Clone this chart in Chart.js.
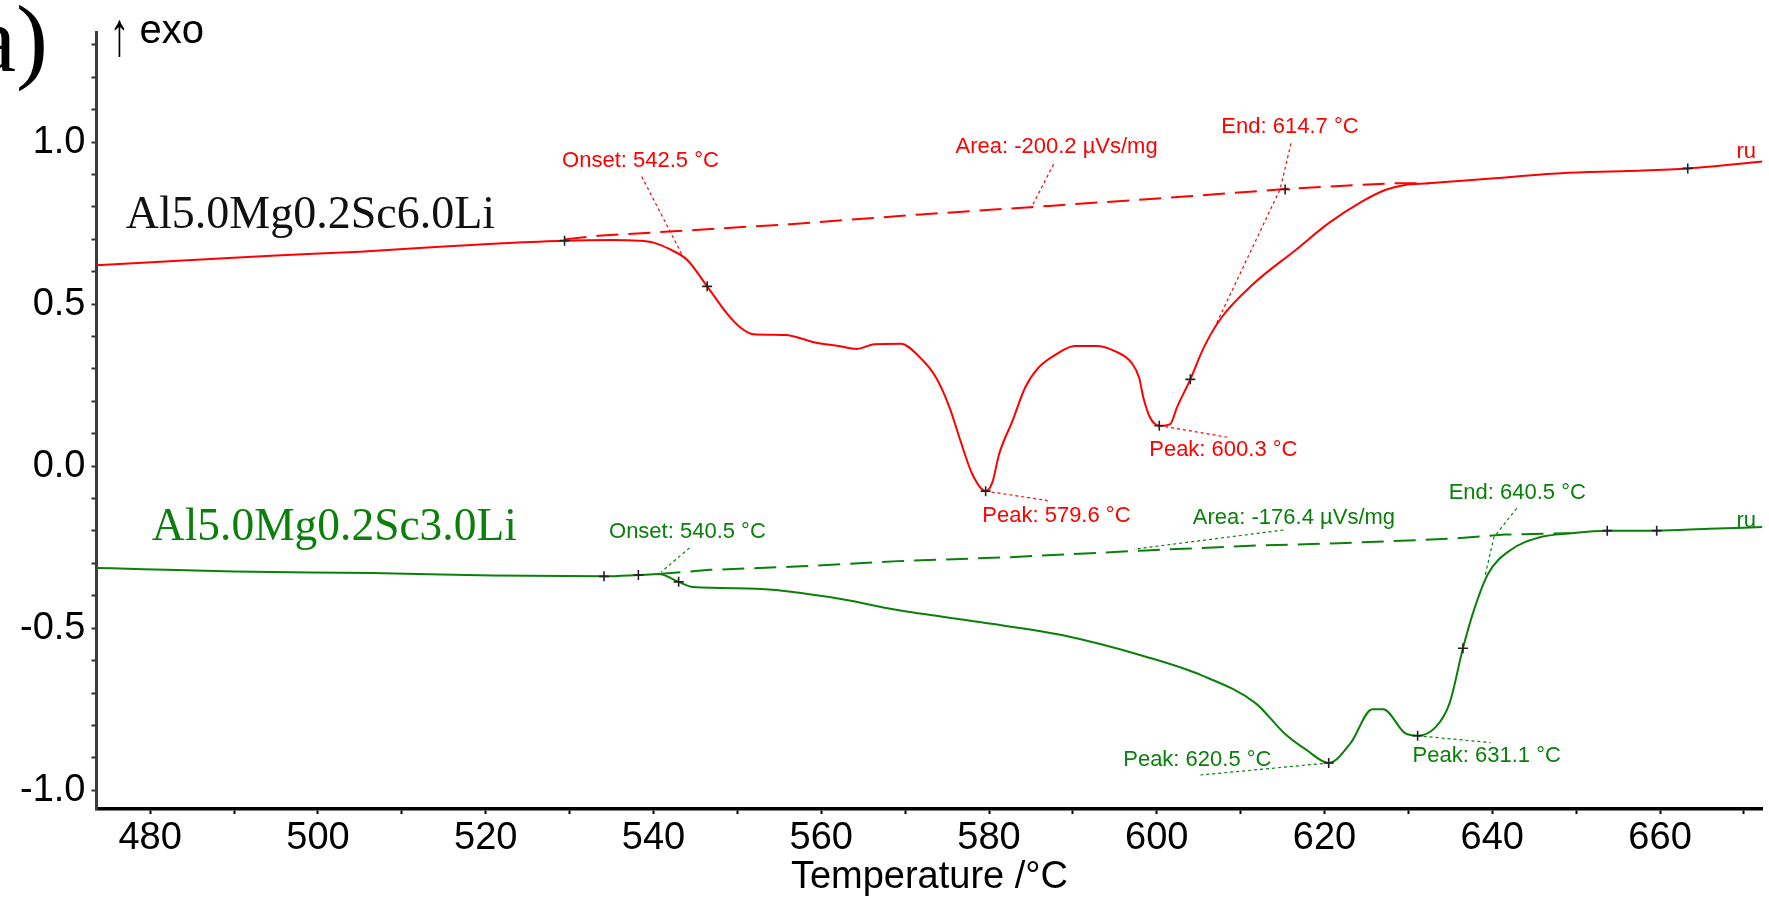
<!DOCTYPE html>
<html><head><meta charset="utf-8">
<script src="https://cdn.jsdelivr.net/npm/chart.js@4.4.1/dist/chart.umd.min.js"></script>
<style>html,body{margin:0;padding:0;background:#fff;overflow:hidden}canvas{display:block}</style>
</head><body>
<canvas id="c" width="1769" height="899"></canvas>
<script>
// ---------- data ----------
const redT = [473.6,485,495,505,515,522,529.4,535,538.3,540.0,542.0,544.0,546.4,548.8,550.4,551.9,555.7,559.4,562.1,564.2,566.3,569.5,571.6,573.7,575.3,576.6,578.0,579.6,580.4,581.2,582.8,584.3,585.9,588.0,590.2,592.8,595.0,597.0,597.9,598.4,599.2,600.3,601.6,602.4,604.0,605.6,607.7,611.4,616.6,620.5,624.5,627.3,629.6,632.4,640.3,648.2,656.1,663.3,672.2];
const redV = [0.620,0.636,0.650,0.662,0.678,0.688,0.696,0.698,0.696,0.690,0.669,0.637,0.555,0.470,0.427,0.407,0.405,0.381,0.371,0.362,0.376,0.378,0.340,0.273,0.181,0.078,-0.024,-0.077,-0.050,0.037,0.140,0.242,0.304,0.345,0.371,0.371,0.355,0.319,0.273,0.212,0.150,0.125,0.130,0.181,0.268,0.366,0.458,0.560,0.668,0.750,0.817,0.853,0.868,0.873,0.889,0.904,0.911,0.919,0.940];
const redBaseT = [529.4,533.4,544.3,556.3,571.9,587.6,603.3,615.6,627.9,632.4];
const redBaseV = [0.700,0.711,0.728,0.747,0.777,0.804,0.832,0.856,0.873,0.873];
const redMarkT = [529.4,546.4,579.6,600.3,604.0,615.3,663.3];
const redMarkV = [0.696,0.555,-0.077,0.125,0.268,0.854,0.919];
const redLeaderT = [[538.6,543.4],[587.7,585.0],[616.0,614.7,606.8],[579.6,587.0],[600.3,608.5]];
const redLeaderV = [[0.894,0.653],[0.932,0.796],[0.996,0.855,0.423],[-0.077,-0.106],[0.125,0.089]];

const greenT = [473.6,479.2,490,506.5,520.8,534.1,538.2,540.6,543.0,544.7,552.2,561.0,569.1,578.9,588.8,598.7,605.3,611.8,615.2,617.8,620.5,623.1,625.7,627.0,629.6,631.1,633.3,634.9,636.5,637.8,639.5,642.1,645.7,649.3,653.7,659.6,665.8,672.2];
const greenV = [-0.314,-0.318,-0.325,-0.330,-0.337,-0.340,-0.336,-0.333,-0.357,-0.373,-0.378,-0.404,-0.444,-0.481,-0.522,-0.588,-0.645,-0.732,-0.824,-0.875,-0.916,-0.855,-0.750,-0.750,-0.824,-0.832,-0.804,-0.732,-0.562,-0.445,-0.332,-0.260,-0.219,-0.207,-0.199,-0.199,-0.193,-0.188];
const greenBaseT = [540.6,546.7,557.6,569.1,582.3,598.7,611.8,621.7,634.9,641.5,649.3];
const greenBaseV = [-0.333,-0.320,-0.309,-0.293,-0.281,-0.260,-0.245,-0.238,-0.224,-0.211,-0.207];
const greenMarkT = [534.1,538.2,543.0,620.5,631.1,636.5,653.7,659.6];
const greenMarkV = [-0.340,-0.336,-0.357,-0.916,-0.832,-0.562,-0.199,-0.199];
const greenLeaderT = [[544.3,540.9],[615.1,597.3],[642.9,640.2,639.1],[620.5,605.2],[631.1,639.8]];
const greenLeaderV = [[-0.252,-0.327],[-0.197,-0.256],[-0.130,-0.219,-0.342],[-0.916,-0.953],[-0.832,-0.853]];

const xMajor = [480,500,520,540,560,580,600,620,640,660];
const xTickValues = [480,490,500,510,520,530,540,550,560,570,580,590,600,610,620,630,640,650,660,670];
const yMajor = [-1.0,-0.5,0.0,0.5,1.0];
const yTickValues = [-1.0,-0.9,-0.8,-0.7,-0.6,-0.5,-0.4,-0.3,-0.2,-0.1,0.0,0.1,0.2,0.3,0.4,0.5,0.6,0.7,0.8,0.9,1.0,1.1,1.2,1.3];
const xTitle = 'Temperature /°C';

const redTexts = ['Onset: 542.5 °C','Area: -200.2 µVs/mg','End: 614.7 °C','Peak: 579.6 °C','Peak: 600.3 °C','ru'];
const redTextT = [529.1,576.0,607.7,579.2,599.1,669.1];
const redTextV = [0.942,0.985,1.047,-0.154,0.050,0.970];
const greenTexts = ['Onset: 540.5 °C','Area: -176.4 µVs/mg','End: 640.5 °C','Peak: 620.5 °C','Peak: 631.1 °C','ru'];
const greenTextT = [534.7,604.3,634.8,596.0,630.5,669.1];
const greenTextV = [-0.203,-0.160,-0.083,-0.907,-0.895,-0.169];
const seriesNames = ['Al5.0Mg0.2Sc6.0Li','Al5.0Mg0.2Sc3.0Li'];
const seriesNameT = [477.1,480.2];
const seriesNameV = [0.735,-0.228];

// ---------- build ----------
const RED = '#ff0000', GREEN = '#0a800a';
const SANS = '"Liberation Sans", Arial, sans-serif';
const SERIF = '"Liberation Serif", "Times New Roman", serif';
const pts = (T, V) => T.map((t, i) => ({x: t, y: V[i]}));
const segs = (TT, VV) => {
  const out = [];
  TT.forEach((T, k) => { if (k) out.push({x: T[0], y: null}); T.forEach((t, i) => out.push({x: t, y: VV[k][i]})); });
  return out;
};
const curve = (data, color, w) => ({data, showLine: true, borderColor: color, borderWidth: w, pointRadius: 0, fill: false, cubicInterpolationMode: 'monotone'});
const dashed = (data, color, w, dash) => ({data, showLine: true, borderColor: color, borderWidth: w, borderDash: dash, pointRadius: 0, fill: false, tension: 0, spanGaps: false});
const marks = (data) => ({data, showLine: false, pointStyle: 'cross', pointRadius: 5, pointBorderColor: '#222', pointBorderWidth: 1.6});

const datasets = [
  marks(pts(redMarkT, redMarkV)),
  marks(pts(greenMarkT, greenMarkV)),
  curve(pts(redT, redV), RED, 2),
  curve(pts(greenT, greenV), GREEN, 2),
  dashed(pts(redBaseT, redBaseV), RED, 2, [22, 10]),
  dashed(pts(greenBaseT, greenBaseV), GREEN, 2, [22, 10]),
  dashed(segs(redLeaderT, redLeaderV), RED, 1.2, [3, 3]),
  dashed(segs(greenLeaderT, greenLeaderV), GREEN, 1.2, [3, 3])
];

const textPlugin = {
  id: 'texts',
  afterDatasetsDraw(chart) {
    const {ctx, scales: {x, y}, chartArea} = chart;
    ctx.save();
    ctx.textAlign = 'left';
    ctx.textBaseline = 'middle';
    ctx.font = '22px ' + SANS;
    ctx.fillStyle = RED;
    redTexts.forEach((s, i) => ctx.fillText(s, x.getPixelForValue(redTextT[i]), y.getPixelForValue(redTextV[i])));
    ctx.fillStyle = GREEN;
    greenTexts.forEach((s, i) => ctx.fillText(s, x.getPixelForValue(greenTextT[i]), y.getPixelForValue(greenTextV[i])));
    ctx.textBaseline = 'alphabetic';
    ctx.font = '46px ' + SERIF;
    ctx.fillStyle = '#111';
    ctx.fillText(seriesNames[0], x.getPixelForValue(seriesNameT[0]), y.getPixelForValue(seriesNameV[0]), 370);
    ctx.fillStyle = GREEN;
    ctx.fillText(seriesNames[1], x.getPixelForValue(seriesNameT[1]), y.getPixelForValue(seriesNameV[1]), 365);
    // panel letter and exo marker
    ctx.fillStyle = '#000';
    ctx.font = '96px ' + SERIF;
    ctx.fillText('a)', chartArea.left - 123, 71);
    ctx.font = '40px ' + SANS;
    ctx.save();
    ctx.translate(chartArea.left + 13, 55);
    ctx.scale(1, 1.55);
    ctx.fillText('↑', 0, 0);
    ctx.restore();
    ctx.fillText('exo', chartArea.left + 43, 43);
    ctx.restore();
  }
};

new Chart(document.getElementById('c'), {
  type: 'scatter',
  data: {datasets},
  options: {
    responsive: false, animation: false, events: [],
    layout: {padding: {top: 32, left: 0, right: 0, bottom: 0}},
    plugins: {legend: {display: false}, tooltip: {enabled: false}},
    scales: {
      x: {
        type: 'linear', min: 473.6, max: 672.2,
        afterBuildTicks: s => { s.ticks = xTickValues.map(v => ({value: v})); },
        afterFit: s => { s.height = 90; },
        ticks: {autoSkip: false, maxRotation: 0, minRotation: 0, padding: 2, color: '#000',
          font: {family: SANS, size: 38}, callback: v => (xMajor.includes(v) ? String(v) : '')},
        grid: {display: true, drawOnChartArea: false, drawTicks: true, tickLength: 5, tickWidth: 2, tickColor: '#000'},
        border: {display: true, color: '#000', width: 3.5},
        title: {display: true, text: xTitle, color: '#000', font: {family: SANS, size: 38, lineHeight: 1.0}, padding: {top: 0, bottom: 2}}
      },
      y: {
        type: 'linear', min: -1.058, max: 1.34,
        afterBuildTicks: s => { s.ticks = yTickValues.map(v => ({value: v})); },
        afterFit: s => { s.width = 96.5; },
        ticks: {autoSkip: false, padding: 6, color: '#000', font: {family: SANS, size: 38},
          callback: v => { const m = yMajor.find(q => Math.abs(q - v) < 1e-6); return m === undefined ? '' : m.toFixed(1); }},
        grid: {display: true, drawOnChartArea: false, drawTicks: true, tickLength: 5, tickWidth: 2, tickColor: '#333'},
        border: {display: true, color: '#3c3c3c', width: 3}
      }
    }
  },
  plugins: [textPlugin]
});
</script>
</body></html>
